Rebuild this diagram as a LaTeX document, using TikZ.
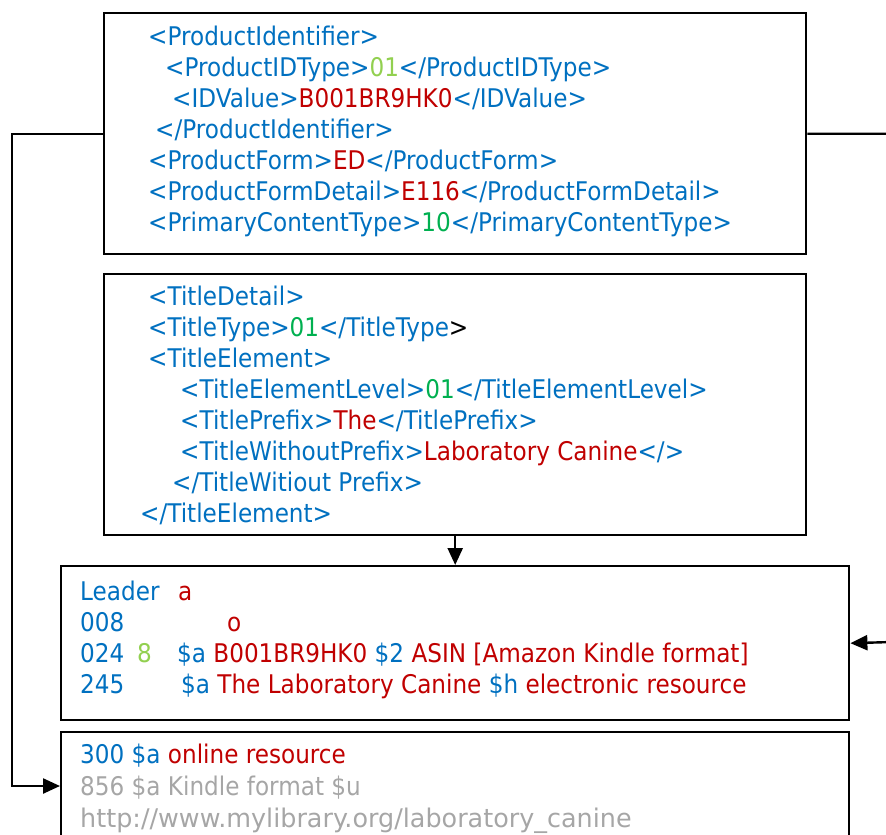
\documentclass[tikz,border=0pt]{standalone}
\usepackage{fontspec}
\setmainfont{DejaVu Sans}[FakeStretch=0.9]
\usetikzlibrary{arrows.meta, positioning}
\definecolor{tagblue}{RGB}{0,112,192}
\definecolor{valred}{RGB}{192,0,0}
\definecolor{litegreen}{RGB}{146,208,80}
\definecolor{darkgreen}{RGB}{0,176,80}
\definecolor{urlgray}{RGB}{166,166,166}
\newcommand{\tagc}[1]{\textcolor{tagblue}{#1}}
\newcommand{\valc}[1]{\textcolor{valred}{#1}}
\newcommand{\lgrn}[1]{\textcolor{litegreen}{#1}}
\newcommand{\dgrn}[1]{\textcolor{darkgreen}{#1}}
\newcommand{\gryc}[1]{\textcolor{urlgray}{#1}}

\begin{document}
\begin{tikzpicture}[
    x=1pt, y=-1pt,
    box/.style={draw, line width=2.4pt, anchor=north west, inner sep=0pt},
    txt/.style={align=left, inner sep=0pt, anchor=base west, font=\fontsize{25.7}{31}\selectfont},
    arrow/.style={-{Triangle[length=17pt,width=15pt]}, line width=2.4pt}
]
    \useasboundingbox (0,0) rectangle (886,835);
    % boxes
    \node[box, minimum width=702pt, minimum height=241pt] (onix) at (103,12) {};
    \node[box, minimum width=702pt, minimum height=261pt] (titles) at (103,273) {};
    \node[box, minimum width=788pt, minimum height=154pt] (marc) at (60,565) {};
    \node[box, minimum width=788pt, minimum height=130pt] (marcx) at (60,731) {};
    % ONIX product identifier (anchored at last baseline)
    \node[txt] (onixtxt) at (148,231) {
        \tagc{<ProductIdentifier>}\\
        \hspace*{17pt}\tagc{<ProductIDType>}\lgrn{01}\tagc{</ProductIDType>}\\
        \hspace*{24pt}\tagc{<IDValue>}\valc{B001BR9HK0}\tagc{</IDValue>}\\
        \hspace*{7pt}\tagc{</ProductIdentifier>}\\
        \tagc{<ProductForm>}\valc{ED}\tagc{</ProductForm>}\\
        \tagc{<ProductFormDetail>}\valc{E116}\tagc{</ProductFormDetail>}\\
        \tagc{<PrimaryContentType>}\dgrn{10}\tagc{</PrimaryContentType>}
    };
    % ONIX title
    \node[txt] (titletxt) at (140,522) {
        \hspace*{8pt}\tagc{<TitleDetail>}\\
        \hspace*{8pt}\tagc{<TitleType>}\dgrn{01}\tagc{</TitleType}>\\
        \hspace*{8pt}\tagc{<TitleElement>}\\
        \hspace*{40pt}\tagc{<TitleElementLevel>}\dgrn{01}\tagc{</TitleElementLevel>}\\
        \hspace*{40pt}\tagc{<TitlePrefix>}\valc{The}\tagc{</TitlePrefix>}\\
        \hspace*{40pt}\tagc{<TitleWithoutPrefix>}\valc{Laboratory Canine}\tagc{</>}\\
        \hspace*{32pt}\tagc{</TitleWitiout Prefix>}\\
        \tagc{</TitleElement>}
    };
    % MARC fields
    \node[txt] (marctxt) at (80,693) {
        \makebox[98pt][l]{\tagc{Leader}}\valc{a}\\
        \makebox[147pt][l]{\tagc{008}}\valc{o}\\
        \makebox[57pt][l]{\tagc{024}}\makebox[40pt][l]{\lgrn{8}}\tagc{\$a} \valc{B001BR9HK0} \tagc{\$2} \valc{ASIN [Amazon Kindle format]}\\
        \makebox[101pt][l]{\tagc{245}}\tagc{\$a} \valc{The Laboratory Canine} \tagc{\$h} \valc{electronic resource}
    };
    \node[txt, font=\fontsize{25.7}{32}\selectfont] (marcxtxt) at (80,827) {
        \tagc{300 \$a} \valc{online resource}\\
        \gryc{856 \$a Kindle format \$u}\\
        \scalebox{1.1}[1]{\gryc{http://www.mylibrary.org/laboratory\_canine}}
    };
    % connectors
    \coordinate (lturn) at (12,786);
    \coordinate (rturn) at (892,642);
    \draw[arrow] (onix.west) -| (lturn) -- (lturn -| marcx.west);
    \draw[arrow] (onix.east) -| (rturn) -- (marc.east);
    \draw[arrow] (titles.south) -- (marc.north);
\end{tikzpicture}
\end{document}
